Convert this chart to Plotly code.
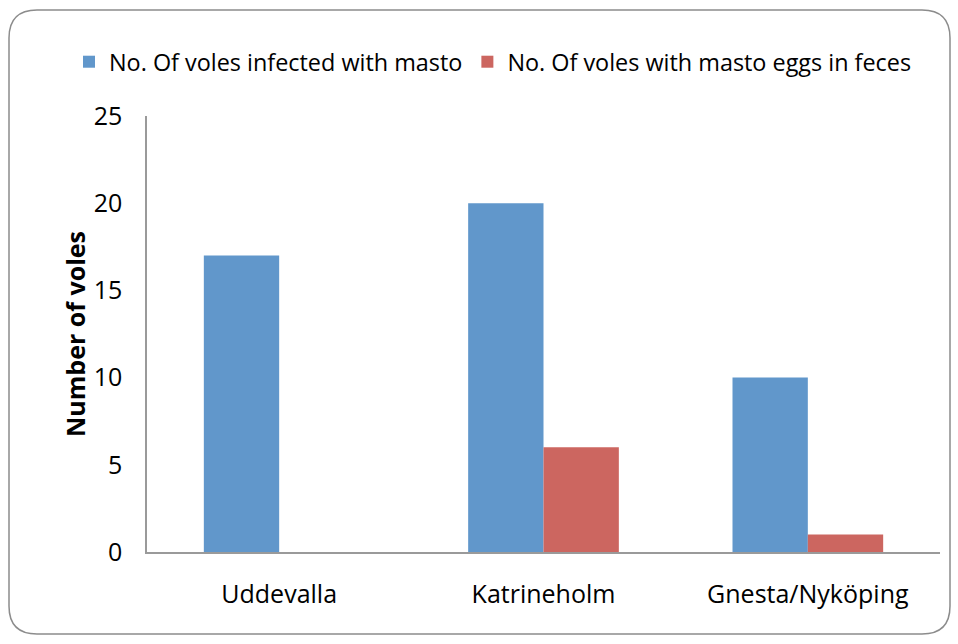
import plotly.graph_objects as go

categories = ["Uddevalla", "Katrineholm", "Gnesta/Nyköping"]
infected = [17, 20, 10]
eggs = [0, 6, 1]
series_names = ["No. Of voles infected with masto", "No. Of voles with masto eggs in feces"]
y_ticks = [0, 5, 10, 15, 20, 25]

W, H = 958, 644
L, R, T, B = 147, 18, 116, 92
pw, ph = W - L - R, H - T - B

def px(x):
    return (x - L) / pw

def py(y):
    return (H - B - y) / ph

fig = go.Figure()
fig.add_bar(x=categories, y=infected, name=series_names[0], marker_color="#6197CB",
            marker_line_width=0)
fig.add_bar(x=categories, y=eggs, name=series_names[1], marker_color="#CC6660",
            marker_line_width=0)

# rounded border
x0, y0, x1, y1, r = 9, 10, 950, 634, 28
path = (f"M {px(x0+r)},{py(y0)} L {px(x1-r)},{py(y0)} Q {px(x1)},{py(y0)} {px(x1)},{py(y0+r)} "
        f"L {px(x1)},{py(y1-r)} Q {px(x1)},{py(y1)} {px(x1-r)},{py(y1)} "
        f"L {px(x0+r)},{py(y1)} Q {px(x0)},{py(y1)} {px(x0)},{py(y1-r)} "
        f"L {px(x0)},{py(y0+r)} Q {px(x0)},{py(y0)} {px(x0+r)},{py(y0)} Z")

FONT = "Open Sans, sans-serif"
fig.update_layout(
    width=W, height=H,
    margin=dict(l=L, r=R, t=T, b=B, pad=0),
    paper_bgcolor="white", plot_bgcolor="white",
    font=dict(family=FONT, size=23, color="#000000"),
    barmode="group", bargap=0.43, bargroupgap=0,
    showlegend=True,
    legend=dict(orientation="h", x=px(69), y=py(62), xanchor="left", yanchor="middle",
                font=dict(size=23.4), itemwidth=30, tracegroupgap=0, bgcolor="rgba(0,0,0,0)"),
    shapes=[dict(type="path", path=path, xref="paper", yref="paper",
                 line=dict(color="#8C8C8C", width=1.5), layer="below")],
    xaxis=dict(showline=True, linecolor="#9A9A9A", linewidth=1.5, ticks="",
               showgrid=False, ticklabelstandoff=19, tickfont=dict(size=25)),
    yaxis=dict(range=[0, 25], tickvals=y_ticks, showline=True, linecolor="#9A9A9A",
               linewidth=1.5, ticks="", showgrid=False, zeroline=False,
               ticklabelstandoff=18, tickfont=dict(size=25),
               title=dict(text="<b>Number of voles</b>", font=dict(size=25), standoff=1)),
)

fig.write_html("out.html")
